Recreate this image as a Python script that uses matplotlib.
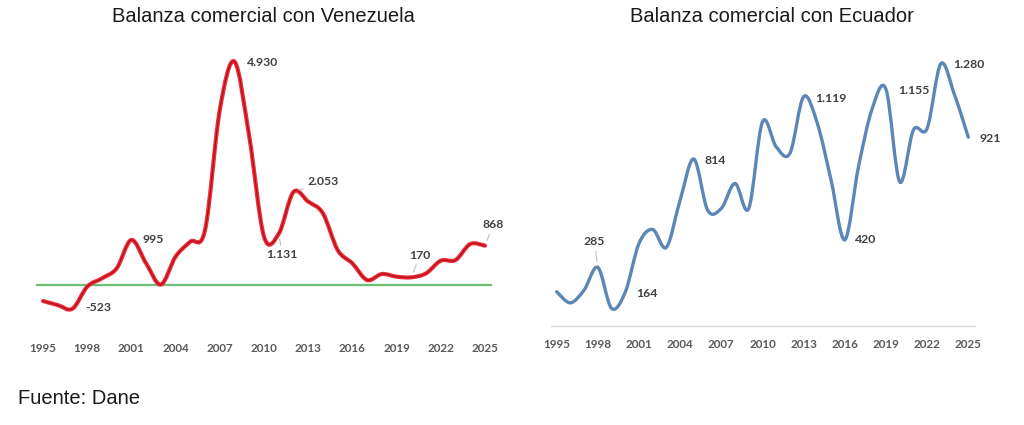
import numpy as np
import matplotlib
matplotlib.use("Agg")
import matplotlib.pyplot as plt
from matplotlib.path import Path
from matplotlib.patches import PathPatch

# Balanza comercial (millones de USD)
years = list(range(1995, 2026))

venezuela = [-353, -442, -523, -37, 147, 368, 995, 478, 10, 626,
             957, 1214, 3864, 4930, 3275, 1070, 1131, 2053, 1840, 1582,
             773, 478, 110, 243, 184, 170, 258, 537, 552, 905, 868]

ecuador = [166, 112, 174, 285, 85, 164, 402, 470, 383, 614,
           814, 565, 573, 695, 573, 996, 874, 842, 1119, 988,
           711, 420, 777, 1061, 1155, 703, 956, 964, 1280, 1127, 921]

tick_years = list(range(1995, 2026, 3))

# etiquetas: (año, texto)
ven_labels = [(2008, "4.930"), (2001, "995"), (1997, "-523"), (2011, "1.131"),
              (2012, "2.053"), (2020, "170"), (2025, "868")]
ecu_labels = [(2023, "1.280"), (2019, "1.155"), (2013, "1.119"), (2025, "921"),
              (2005, "814"), (2016, "420"), (2000, "164"), (1998, "285")]

PX = 0.72  # px -> points at 100 dpi


def smooth_path(x, y):
    # curva suavizada tipo Excel (Bezier con puntos de control Catmull-Rom)
    x = np.asarray(x, float)
    y = np.asarray(y, float)
    pts = np.column_stack([x, y])
    verts = [pts[0]]
    codes = [Path.MOVETO]
    n = len(pts)
    for i in range(n - 1):
        p0 = pts[max(i - 1, 0)]
        p1 = pts[i]
        p2 = pts[i + 1]
        p3 = pts[min(i + 2, n - 1)]
        c1 = p1 + (p2 - p0) / 6.0
        c2 = p2 - (p3 - p1) / 6.0
        verts += [c1, c2, p2]
        codes += [Path.CURVE4] * 3
    return Path(verts, codes)


def add_labels(ax, xs, ys, labels, offsets):
    for yr, txt in labels:
        val = ys[xs.index(yr)]
        dx, dy, ha, leader = offsets[txt]
        arrow = None
        if leader:
            arrow = dict(arrowstyle="-", color="#bfbfbf", lw=0.8,
                         shrinkA=1, shrinkB=4)
        ax.annotate(txt, xy=(yr, val), xytext=(dx * PX, dy * PX),
                    textcoords="offset points", ha=ha, va="center",
                    fontsize=8.8, fontweight="bold", color="#404040",
                    family="Lato", arrowprops=arrow)


def style_axis(ax, pad):
    for s in ax.spines.values():
        s.set_visible(False)
    ax.set_yticks([])
    ax.set_xticks(tick_years)
    ax.set_xticklabels([str(t) for t in tick_years])
    ax.tick_params(axis="x", length=0, pad=pad, labelsize=8.4,
                   labelcolor="#595959")
    for lb in ax.get_xticklabels():
        lb.set_fontweight("bold")
        lb.set_family("Lato")
    ax.set_xlim(1993.5, 2026.5)


fig = plt.figure(figsize=(10.24, 4.25), dpi=100)

# ---------------- Venezuela ----------------
ax1 = fig.add_axes([0.0204, 0.2334, 0.4748, 0.6504])
style_axis(ax1, 12.7)
ax1.set_ylim(-900, 5200)
ax1.axhline(0, xmin=(1994.6 - 1993.5) / 33, xmax=(2025.4 - 1993.5) / 33,
            color="#6cbf73", lw=1.6, zorder=1)
path_v = smooth_path(years, venezuela)
ax1.add_patch(PathPatch(path_v, facecolor="none", edgecolor="#f03038",
                        lw=3.0, capstyle="round", zorder=2))
ax1.add_patch(PathPatch(path_v, facecolor="none", edgecolor="#b0101e",
                        lw=1.0, capstyle="round", zorder=3))

ven_off = {
    "4.930": (12.5, -1, "left", False),
    "995": (11.6, 0, "left", False),
    "-523": (12.5, 1, "left", False),
    "1.131": (3.5, -21, "center", True),
    "2.053": (13.6, 10.6, "left", True),
    "170": (8.7, 22, "center", True),
    "868": (8, 20.7, "center", True),
}
add_labels(ax1, years, venezuela, ven_labels, ven_off)

# ---------------- Ecuador ----------------
ax2 = fig.add_axes([0.5235, 0.2336, 0.4422, 0.6744])
style_axis(ax2, 9.3)
ax2.set_ylim(0, 1400)
ax2.axhline(0, xmin=(1994.6 - 1993.5) / 33, xmax=(2025.5 - 1993.5) / 33,
            color="#d9d9d9", lw=1.0, zorder=1, clip_on=False)
path_e = smooth_path(years, ecuador)
ax2.add_patch(PathPatch(path_e, facecolor="none", edgecolor="#5b86b6",
                        lw=2.4, capstyle="round", zorder=2))

ecu_off = {
    "1.280": (12, -1.3, "left", False),
    "1.155": (11.7, -1.4, "left", False),
    "1.119": (12, -1.7, "left", False),
    "921": (11.7, -1.8, "left", False),
    "814": (11, -1.6, "left", False),
    "420": (10, 0, "left", False),
    "164": (11, -1, "left", False),
    "285": (-3.4, 25.7, "center", True),
}
add_labels(ax2, years, ecuador, ecu_labels, ecu_off)

# ---------------- textos ----------------
fig.text(263 / 1024, 1 - 17 / 425, "Balanza comercial con Venezuela",
         ha="center", va="center", fontsize=14.5, color="#1a1a1a",
         family="Liberation Sans")
fig.text(772 / 1024, 1 - 17 / 425, "Balanza comercial con Ecuador",
         ha="center", va="center", fontsize=14.5, color="#1a1a1a",
         family="Liberation Sans")
fig.text(18 / 1024, 1 - 398 / 425, "Fuente: Dane", ha="left", va="center",
         fontsize=14.5, color="#1a1a1a", family="Liberation Sans")

fig.savefig("out.png", dpi=100, facecolor="white")
